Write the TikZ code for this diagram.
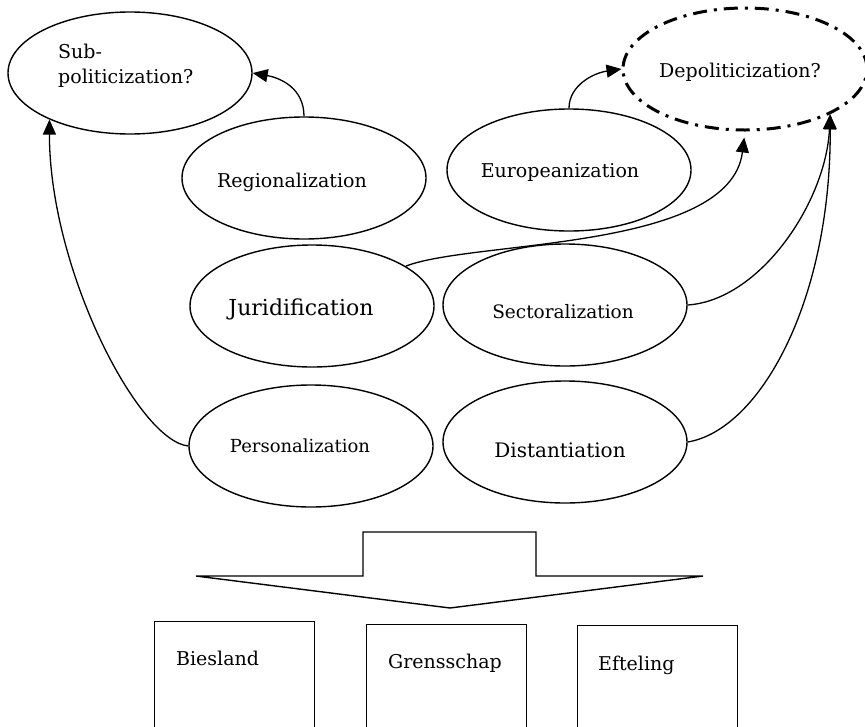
\documentclass[tikz,border=0pt]{standalone}
\usepackage{fontspec}
\setmainfont{DejaVu Serif}
\usetikzlibrary{shapes.geometric,arrows.meta}

\begin{document}
\begin{tikzpicture}[x=1pt,y=-1pt,
        oval/.style={draw,ellipse,line width=1.4pt,minimum width=244pt,minimum height=122pt,inner sep=0pt},
        txt/.style={inner sep=0pt,anchor=base,font=\fontsize{19}{25}\selectfont},
        link/.style={line width=1.3pt,-{Triangle[length=15pt,width=13pt]}},
        case/.style={draw,line width=1.4pt,anchor=north west,minimum width=160pt,minimum height=130pt,inner sep=0pt}]
    \useasboundingbox (0,0) rectangle (865,726);
    \clip (0,0) rectangle (865,726);
    % top row
    \node[oval] (sub) at (130,73) {};
    \node[oval,line width=3pt,dash pattern=on 14pt off 7pt on 3pt off 7pt] (dep) at (745,69) {};
    \node[oval] (reg) at (304,178) {};
    \node[oval] (eur) at (569,170) {};
    % base of a two-line node is its last line
    \node[txt,anchor=base west,align=left] (sub-t) at (58,83) {Sub-\\politicization?};
    \node[txt] (dep-t) at (740,77) {Depoliticization?};
    \node[txt] (reg-t) at (292,187) {Regionalization};
    \node[txt] (eur-t) at (560,177) {Europeanization};
    % middle and bottom rows
    \node[oval] (jur) at (312,306) {};
    \node[oval] (sect) at (565,305) {};
    \node[oval] (pers) at (311,446) {};
    \node[oval] (dist) at (565,442) {};
    \node[txt,font=\fontsize{22}{26}\selectfont] (jur-t) at (301,315) {Juridification};
    \node[txt,font=\fontsize{18.5}{24}\selectfont] (sect-t) at (563,318) {Sectoralization};
    \node[txt,font=\fontsize{18}{24}\selectfont] (pers-t) at (300,452) {Personalization};
    \node[txt,font=\fontsize{20}{24}\selectfont] (dist-t) at (560,457) {Distantiation};
    % arrows into the two outcomes
    \draw[link] (reg.north) .. controls +(0,-28) and +(28,5) .. (sub.east);
    \draw[link] (pers.west) .. controls +(-50,-5) and +(0,150) .. (sub.210);
    \draw[link] (eur.north) .. controls +(0,-23) and +(-28,4) .. (dep.west);
    \draw[link,shorten >=6pt] (jur.23) .. controls +(65,-26) and +(-15,120) .. (dep.south);
    \draw[link] (sect.east) .. controls +(73,-5) and +(-4,87) .. (dep.-28);
    \draw[link] (dist.east) .. controls +(72,-12) and +(1,187) .. (dep.-28);
    % block arrow down to the cases
    \draw[line width=1.4pt] (363,532) -- (536,532) -- (536,576) -- (703,576)
        -- (450,608) -- (196,576) -- (363,576) -- cycle;
    \node[case] (bies) at (154,621) {};
    \node[case] (grens) at (366,624) {};
    \node[case] (eft) at (577,625) {};
    \node[txt,anchor=base west] (bies-t) at (176,665) {Biesland};
    \node[txt] (grens-t) at (445,668) {Grensschap};
    \node[txt,anchor=base west] (eft-t) at (598,670) {Efteling};
\end{tikzpicture}
\end{document}
